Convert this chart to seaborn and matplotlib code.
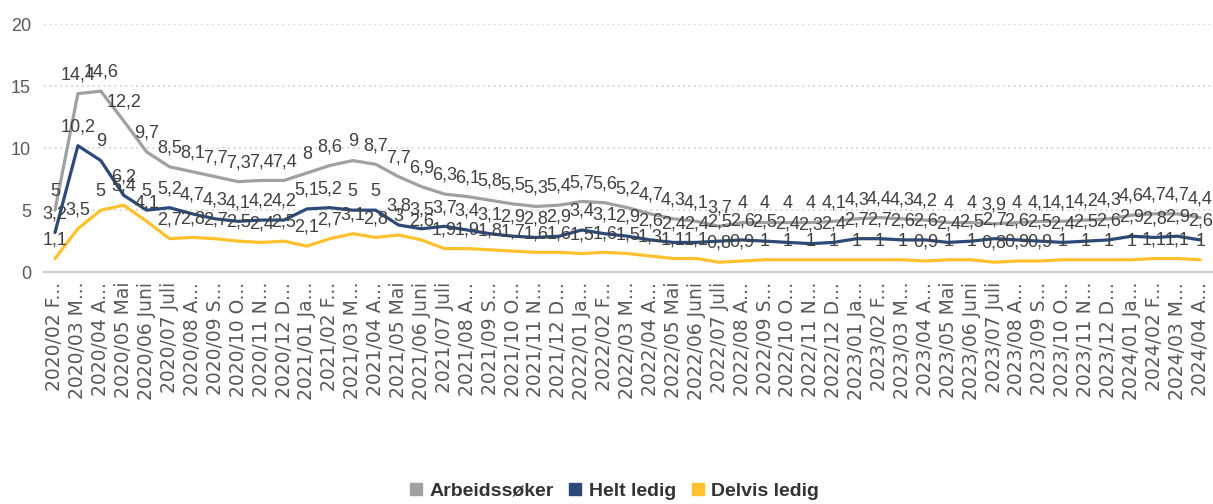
import matplotlib
matplotlib.use("Agg")
import matplotlib.pyplot as plt
from matplotlib.lines import Line2D
import seaborn as sns
import pandas as pd

sns.set_style("white")
plt.rcParams["font.family"] = ["Liberation Sans", "DejaVu Sans"]

# month labels as shown (Excel truncates the month names)
maaneder = [
    "2020/02 F...", "2020/03 M...", "2020/04 A...", "2020/05 Mai", "2020/06 Juni",
    "2020/07 Juli", "2020/08 A...", "2020/09 S...", "2020/10 O...", "2020/11 N...",
    "2020/12 D...", "2021/01 Ja...", "2021/02 F...", "2021/03 M...", "2021/04 A...",
    "2021/05 Mai", "2021/06 Juni", "2021/07 Juli", "2021/08 A...", "2021/09 S...",
    "2021/10 O...", "2021/11 N...", "2021/12 D...", "2022/01 Ja...", "2022/02 F...",
    "2022/03 M...", "2022/04 A...", "2022/05 Mai", "2022/06 Juni", "2022/07 Juli",
    "2022/08 A...", "2022/09 S...", "2022/10 O...", "2022/11 N...", "2022/12 D...",
    "2023/01 Ja...", "2023/02 F...", "2023/03 M...", "2023/04 A...", "2023/05 Mai",
    "2023/06 Juni", "2023/07 Juli", "2023/08 A...", "2023/09 S...", "2023/10 O...",
    "2023/11 N...", "2023/12 D...", "2024/01 Ja...", "2024/02 F...", "2024/03 M...",
    "2024/04 A...",
]

arbeidssoker = [5, 14.4, 14.6, 12.2, 9.7, 8.5, 8.1, 7.7, 7.3, 7.4, 7.4,
                8, 8.6, 9, 8.7, 7.7, 6.9, 6.3, 6.1, 5.8, 5.5, 5.3, 5.4,
                5.7, 5.6, 5.2, 4.7, 4.3, 4.1, 3.7, 4, 4, 4, 4, 4.1,
                4.3, 4.4, 4.3, 4.2, 4, 4, 3.9, 4, 4.1, 4.1, 4.2, 4.3,
                4.6, 4.7, 4.7, 4.4]

helt_ledig = [3.2, 10.2, 9, 6.2, 5, 5.2, 4.7, 4.3, 4.1, 4.2, 4.2,
              5.1, 5.2, 5, 5, 3.8, 3.5, 3.7, 3.4, 3.1, 2.9, 2.8, 2.9,
              3.4, 3.1, 2.9, 2.6, 2.4, 2.4, 2.5, 2.6, 2.5, 2.4, 2.3, 2.4,
              2.7, 2.7, 2.6, 2.6, 2.4, 2.5, 2.7, 2.6, 2.5, 2.4, 2.5, 2.6,
              2.9, 2.8, 2.9, 2.6]

delvis_ledig = [1.1, 3.5, 5, 5.4, 4.1, 2.7, 2.8, 2.7, 2.5, 2.4, 2.5,
                2.1, 2.7, 3.1, 2.8, 3, 2.6, 1.9, 1.9, 1.8, 1.7, 1.6, 1.6,
                1.5, 1.6, 1.5, 1.3, 1.1, 1.1, 0.8, 0.9, 1, 1, 1, 1,
                1, 1, 1, 0.9, 1, 1, 0.8, 0.9, 0.9, 1, 1, 1,
                1, 1.1, 1.1, 1]

serier = ["Arbeidssøker", "Helt ledig", "Delvis ledig"]
farger = {"Arbeidssøker": "#a0a0a0", "Helt ledig": "#2c4a78", "Delvis ledig": "#ffc12e"}

df = pd.concat([
    pd.DataFrame({"pos": range(len(maaneder)), "verdi": v, "serie": s})
    for s, v in zip(serier, [arbeidssoker, helt_ledig, delvis_ledig])
], ignore_index=True)

fig = plt.figure(figsize=(12.13, 5.04), dpi=100)
ax = fig.add_axes([0.0359, 0.460, 0.963, 0.492])

sns.lineplot(data=df, x="pos", y="verdi", hue="serie", palette=farger,
             hue_order=serier, linewidth=2.3, legend=False, ax=ax, zorder=3)

# data labels, decimal comma
label_font = ["Liberation Sans Narrow", "Liberation Sans", "DejaVu Sans"]
for s in serier:
    sub = df[df["serie"] == s]
    for x, y in zip(sub["pos"], sub["verdi"]):
        ax.annotate(f"{y:g}".replace(".", ","), (x, y), xytext=(0, 13.5),
                    textcoords="offset points", ha="center", va="center",
                    fontsize=13, color="#404040", family=label_font, zorder=5)

ax.set_xlim(-0.5, len(maaneder) - 0.5)
ax.set_ylim(0, 20)
ax.set_yticks([0, 5, 10, 15, 20])
ax.tick_params(axis="y", length=0, pad=9, labelsize=13, labelcolor="#595959")
ax.set_xticks(range(len(maaneder)))
ax.set_xticklabels(maaneder, rotation=90, fontsize=13.5, color="#595959",
                   family=["DejaVu Sans"], va="top")
ax.set_xticks([i + 0.5 for i in range(len(maaneder) - 1)], minor=True)
ax.tick_params(axis="x", which="major", length=0, pad=7)
ax.tick_params(axis="x", which="minor", length=4, color="#d0d0d0", width=1)

ax.grid(axis="y", linestyle=(0, (1, 2)), color="#d4d4d4", linewidth=1.3)
for side in ["top", "right", "left"]:
    ax.spines[side].set_visible(False)
ax.spines["bottom"].set_color("#d0d0d0")
ax.spines["bottom"].set_linewidth(1.5)
ax.set_xlabel("")
ax.set_ylabel("")

handles = [Line2D([], [], marker="s", linestyle="", markersize=9,
                  color=farger[s]) for s in serier]
fig.legend(handles, serier, loc="center", bbox_to_anchor=(0.506, 0.026),
           ncol=3, frameon=False, handlelength=0.8, handletextpad=0.3,
           columnspacing=0.7, prop={"size": 14, "weight": "bold"},
           labelcolor="#333333")

fig.savefig("out.png", dpi=100)
